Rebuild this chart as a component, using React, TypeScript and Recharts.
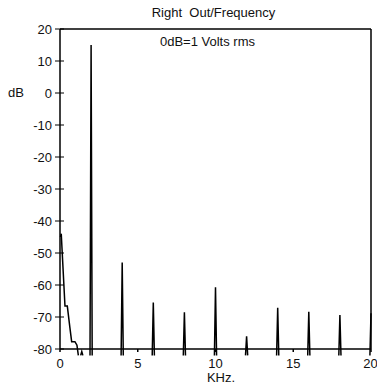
import React from 'react';
import { LineChart, Line, XAxis, YAxis } from 'recharts';

// low frequency roll-off near DC (kHz, dB)
const lowFreqs = [0.03, 0.08, 0.32, 0.47, 0.64, 0.75, 0.96, 1.09, 1.18];
const lowDb = [-45, -44, -66.6, -66.6, -73.5, -77.7, -77.7, -78.8, -82];

// small bump below the floor
const bumpFreqs = [1.33, 1.4, 1.47];
const bumpDb = [-82, -80.8, -82];

// harmonic spikes
const spikeFreqs = [2, 4, 6, 8, 10, 12, 14, 16, 18, 20];
const spikePeaks = [15, -53, -65.5, -68.5, -60.7, -76, -67.1, -68.4, -69.4, -68.8];
const spikeBase = -82;
const spikeHalfWidth = 0.07;

const xTicks = [0, 5, 10, 15, 20];
const xMinorTicks = [5, 10, 15];
const yTicks = [-80, -70, -60, -50, -40, -30, -20, -10, 0, 10, 20];

type Pt = { f: number; db: number | null };

const buildData = (): Pt[] => {
    const rows: Pt[] = [];
    lowFreqs.forEach((f, i) => rows.push({ f, db: lowDb[i] }));
    rows.push({ f: 1.25, db: null });
    bumpFreqs.forEach((f, i) => rows.push({ f, db: bumpDb[i] }));
    rows.push({ f: 1.6, db: null });
    spikeFreqs.forEach((f, i) => {
        rows.push({ f: f - spikeHalfWidth, db: spikeBase });
        rows.push({ f, db: spikePeaks[i] });
        if (f + spikeHalfWidth <= 20) {
            rows.push({ f: f + spikeHalfWidth, db: spikeBase });
            rows.push({ f: f + 2 * spikeHalfWidth, db: null });
        }
    });
    return rows;
};

const data = buildData();

const FONT = '"Liberation Sans", Arial, sans-serif';
const FONT_SIZE = 13;
const TICK_MARGIN = 8;

const LeftTick = (props: any) => {
    const { x, y, payload } = props;
    const axisX = x + TICK_MARGIN;
    return (
        <g>
            <line x1={axisX - 5} y1={y} x2={axisX + 4} y2={y} stroke="#000" strokeWidth={1} />
            <text x={x} y={y} dy="0.36em" textAnchor="end" fontSize={FONT_SIZE} fill="#111" fontFamily={FONT}>
                {payload.value}
            </text>
        </g>
    );
};

const textStyle: React.CSSProperties = {
    position: 'absolute',
    fontFamily: FONT,
    fontSize: FONT_SIZE,
    color: '#111',
    whiteSpace: 'pre',
    lineHeight: '15px',
};

export default function App() {
    return (
        <div style={{ position: 'absolute', left: 0, top: 0, width: 377, height: 387, background: '#fff' }}>
            {/* the trace runs a little below the -80 dB floor, as in the original plot */}
            <style>{'.recharts-line, .recharts-line * { clip-path: none !important; }'}</style>
            <LineChart width={377} height={387} data={data} margin={{ top: 0, right: 0, bottom: 0, left: 0 }}>
                <XAxis
                    xAxisId="bottom"
                    dataKey="f"
                    type="number"
                    domain={[0, 20]}
                    allowDataOverflow
                    ticks={xTicks}
                    height={38}
                    tickSize={3}
                    tickMargin={7}
                    stroke="#000"
                    strokeWidth={1.5}
                    tick={{ fontSize: FONT_SIZE, fill: '#111', fontFamily: FONT }}
                />
                <XAxis
                    xAxisId="top"
                    orientation="top"
                    type="number"
                    domain={[0, 20]}
                    ticks={xMinorTicks}
                    height={29}
                    tickSize={4}
                    tick={false}
                    stroke="#000"
                    strokeWidth={1.5}
                />
                <YAxis
                    yAxisId="left"
                    type="number"
                    domain={[-80, 20]}
                    allowDataOverflow
                    ticks={yTicks}
                    width={60}
                    tickSize={0}
                    tickMargin={TICK_MARGIN}
                    tickLine={false}
                    stroke="#000"
                    strokeWidth={1.5}
                    tick={<LeftTick />}
                />
                <YAxis
                    yAxisId="right"
                    orientation="right"
                    type="number"
                    domain={[-80, 20]}
                    ticks={yTicks}
                    width={6}
                    tickSize={4}
                    tick={false}
                    stroke="#000"
                    strokeWidth={1.5}
                />
                <Line
                    xAxisId="bottom"
                    yAxisId="left"
                    type="linear"
                    dataKey="db"
                    stroke="#000"
                    strokeWidth={1.5}
                    dot={false}
                    connectNulls={false}
                    isAnimationActive={false}
                />
            </LineChart>
            <div style={{ ...textStyle, left: 0, width: 427, top: 5, textAlign: 'center' }}>{'Right  Out/Frequency'}</div>
            <div style={{ ...textStyle, left: 0, width: 415, top: 34, textAlign: 'center' }}>0dB=1 Volts rms</div>
            <div style={{ ...textStyle, left: 8, top: 85 }}>dB</div>
            <div style={{ ...textStyle, left: 0, width: 442, top: 370, textAlign: 'center' }}>KHz.</div>
        </div>
    );
}
